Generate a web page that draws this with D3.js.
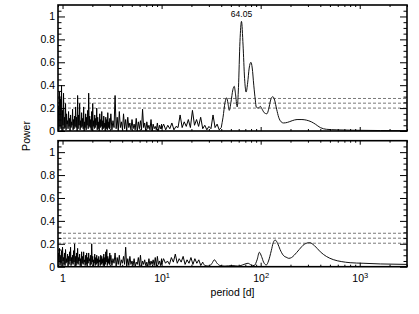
<!DOCTYPE html>
<html>
<head>
<meta charset="utf-8">
<script src="https://cdn.jsdelivr.net/npm/d3@7"></script>
<style>
  body { margin: 0; background: #fff; }
  text { font-family: "Liberation Sans", Arial, Helvetica, sans-serif; }
</style>
</head>
<body>
<svg id="chart" width="419" height="314"></svg>
<script>
/* axis settings */
var periodDomain = [0.9, 3000];
var powerDomain = [0, 1.1];
var xMajor = [1, 10, 100, 1000];
var xLabelBase = ["1", "10", "10", "10"];
var xLabelExp = ["", "1", "2", "3"];
var yMajor = [0, 0.2, 0.4, 0.6, 0.8, 1];
var yLabels = ["0", "0.2", "0.4", "0.6", "0.8", "1"];

// false alarm levels (dashed)
var levelsTop = [0.20, 0.243, 0.284];
var levelsBottom = [0.205, 0.249, 0.292];

// highest peak
var peakPeriod = 64.05;
var peakPower = 0.957;
var peakLabel = "64.05";

// noisy short period part, power x100, trough/peak alternating,
// on a log grid between the break periods
var topBreaks = [0.9, 3, 10, 40];
var topNoise1 = [3,22,1,34,4,28,2,40,0,18,5,33,2,12,3,24,1,15,6,9,
  2,17,4,11,0,14,3,8,5,19,1,10,2,13,4,21,3,12,0,31,
  2,14,5,24,1,9,3,16,4,11,2,21,0,8,3,15,1,12,5,18,
  2,33,4,13,3,10,1,17,0,24,4,9,2,14,3,11,5,20,1,12,
  2,8,0,15,3,10,4,17,1,9,2,13,3,7,0,12,2,10,1,16,
  3,8,2,11];
var topNoise2 = [2,15,1,9,3,31,2,12,0,17,3,8,1,15,2,10,0,12,3,7,
  1,10,2,6,1,11,0,8,2,9,1,19,3,7,0,8,2,5,1,10,
  0,6,2,4,1,7,0,5,2,6];
var topNoise3 = [2,6,1,5,2,7,1,4,3,14,3,8,4,10,3,18,5,10,4,12,
  2,5,1,4,2,14,3,6,1,3];

// smooth long period part [period, power]
var topCurve = [[41.7,0.12],[43.7,0.25],[45.4,0.29],[46.8,0.24],[48.2,0.18],[50.1,0.25],
  [52.4,0.36],[54.1,0.39],[55.6,0.33],[58.0,0.21],[59.7,0.38],[61.8,0.78],[64.05,0.957],
  [66.4,0.75],[68.8,0.46],[71.3,0.34],[73.9,0.42],[76.6,0.55],[79.7,0.60],[82.2,0.55],
  [85.2,0.40],[88.3,0.27],[90.2,0.21],[94.6,0.20],[99.2,0.215],[103.5,0.19],[108.5,0.16],
  [115.6,0.15],[120.4,0.19],[126,0.27],[132.6,0.30],[138.3,0.27],[145,0.19],[152,0.12],
  [161,0.08],[170,0.07],[186,0.075],[208,0.09],[233,0.10],[261,0.10],[289,0.095],
  [325,0.08],[356,0.06],[400,0.03],[460,0.015],[588,0.01],[800,0.007],[1620,0.004],[3000,0.003]];

var botBreaks = [0.9, 3, 10, 26];
var botNoise1 = [2,12,4,16,1,9,3,14,0,17,5,8,2,12,1,15,3,7,4,11,
  0,9,2,13,5,17,1,8,3,10,2,14,4,20,0,9,1,12,3,16,
  2,8,5,11,1,7,0,13,3,9,2,13,4,6,1,10,2,12,0,8,
  3,12,5,7,1,10,2,20,4,9,0,6,3,11,1,8,2,10,3,7,
  0,9,4,6,1,10,2,9,3,7,1,11,0,8,2,13,4,15,1,9,
  3,7,2,12];
var botNoise2 = [2,10,1,7,3,12,0,8,2,10,1,6,3,9,2,17,0,7,1,9,
  2,5,1,7,0,4,2,8,1,10,0,5,2,6,1,4,0,7,1,5,
  2,6,1,8,0,9,2,5,1,7];
var botNoise3 = [2,7,3,5,2,8,4,11,3,7,4,9,2,6,3,8,2,7,3,6,1,4];

var botCurve = [[27.4,0.01],[30.1,0.005],[32.3,0.03],[34.1,0.06],[36.3,0.03],[38.9,0.01],
  [43.6,0.005],[51.5,0.01],[59.2,0.005],[67.8,0.02],[74.5,0.03],[80.1,0.015],[86,0.01],
  [92,0.06],[97,0.126],[102,0.09],[107,0.04],[114,0.015],[120,0.05],[128,0.14],[134,0.21],
  [140,0.233],[149,0.2],[157,0.15],[169,0.10],[184,0.08],[192,0.073],[205,0.08],[218,0.1],
  [245,0.15],[275,0.195],[312,0.21],[348,0.185],[400,0.13],[460,0.09],[540,0.062],
  [650,0.045],[800,0.035],[1080,0.03],[1620,0.024],[3000,0.02]];

/* helpers */
// put noise values on the log grid of their segment
function noisePoints(breaks, segs) {
  var pts = [];
  segs.forEach(function (vals, s) {
    var p0 = breaks[s], p1 = breaks[s + 1], n = vals.length;
    vals.forEach(function (v, i) {
      pts.push([p0 * Math.pow(p1 / p0, i / (n - 1)), v / 100]);
    });
  });
  return pts;
}

var svg = d3.select("#chart");
var left = 58, right = 407;
var x = d3.scaleLog().domain(periodDomain).range([left, right]);

var panels = [
  { top: 5, bottom: 131, noise: noisePoints(topBreaks, [topNoise1, topNoise2, topNoise3]),
    curve: topCurve, levels: levelsTop, labels: false, peak: true },
  { top: 140.7, bottom: 266.7, noise: noisePoints(botBreaks, [botNoise1, botNoise2, botNoise3]),
    curve: botCurve, levels: levelsBottom, labels: true, peak: false }
];

var xMinor = x.ticks().filter(function (d) { return xMajor.indexOf(d) < 0; });

panels.forEach(function (p, k) {
  var y = d3.scaleLinear().domain(powerDomain).range([p.bottom, p.top]);
  var yMinor = y.ticks(22).filter(function (d) {
    return Math.round(d * 100) % 20 !== 0 && d < 1.09;
  });
  var g = svg.append("g");

  g.append("clipPath").attr("id", "clip" + k)
    .append("rect").attr("x", left).attr("y", p.top)
    .attr("width", right - left).attr("height", p.bottom - p.top);

  // dashed levels
  g.selectAll("line.level").data(p.levels).enter().append("line")
    .attr("class", "level")
    .attr("x1", left).attr("x2", right)
    .attr("y1", function (d) { return y(d); })
    .attr("y2", function (d) { return y(d); })
    .attr("stroke", "#555").attr("stroke-width", 0.8)
    .attr("stroke-dasharray", "3,2");

  var data = g.append("g").attr("clip-path", "url(#clip" + k + ")");
  var lineLin = d3.line()
    .x(function (d) { return x(d[0]); })
    .y(function (d) { return y(d[1]); });
  var lineSmooth = d3.line()
    .x(function (d) { return x(d[0]); })
    .y(function (d) { return y(d[1]); })
    .curve(d3.curveMonotoneX);

  data.append("path").attr("d", lineLin(p.noise))
    .attr("fill", "none").attr("stroke", "#000").attr("stroke-width", 1);
  data.append("path").attr("d", lineSmooth([p.noise[p.noise.length - 1]].concat(p.curve)))
    .attr("fill", "none").attr("stroke", "#111").attr("stroke-width", 1);

  // ticks on all four sides, pointing inwards
  function tidy(sel) {
    sel.select(".domain").remove();
    sel.selectAll(".tick line").attr("stroke", "#000").attr("stroke-width", 1);
    sel.attr("font-size", 10.5).attr("font-family", null);
  }
  [[d3.axisBottom, p.bottom], [d3.axisTop, p.top]].forEach(function (a) {
    g.append("g").attr("transform", "translate(0," + a[1] + ")")
      .call(a[0](x).tickValues(xMinor).tickSizeInner(-2).tickSizeOuter(0).tickFormat(""))
      .call(tidy);
  });
  g.append("g").attr("transform", "translate(0," + p.top + ")")
    .call(d3.axisTop(x).tickValues(xMajor).tickSizeInner(-4).tickSizeOuter(0).tickFormat(""))
    .call(tidy);
  var xb = g.append("g").attr("transform", "translate(0," + p.bottom + ")")
    .call(d3.axisBottom(x).tickValues(xMajor).tickSizeInner(-4).tickSizeOuter(0)
      .tickPadding(8).tickFormat(""))
    .call(tidy);
  if (p.labels) {
    xb.selectAll(".tick text").each(function (d, i) {
      var t = d3.select(this).attr("fill", "#000").text(xLabelBase[i]);
      if (xLabelExp[i]) {
        t.append("tspan").attr("dy", "-0.5em").attr("font-size", 7.5).text(xLabelExp[i]);
      }
    });
  }

  [[d3.axisLeft, left], [d3.axisRight, right]].forEach(function (a) {
    g.append("g").attr("transform", "translate(" + a[1] + ",0)")
      .call(a[0](y).tickValues(yMinor).tickSizeInner(-3.5).tickSizeOuter(0).tickFormat(""))
      .call(tidy);
  });
  g.append("g").attr("transform", "translate(" + right + ",0)")
    .call(d3.axisRight(y).tickValues(yMajor).tickSizeInner(-7).tickSizeOuter(0).tickFormat(""))
    .call(tidy);
  g.append("g").attr("transform", "translate(" + left + ",0)")
    .call(d3.axisLeft(y).tickValues(yMajor).tickSizeInner(-7).tickSizeOuter(0)
      .tickPadding(3).tickFormat(function (d, i) { return yLabels[i]; }))
    .call(tidy)
    .selectAll(".tick text").attr("fill", "#000");

  g.append("rect").attr("x", left).attr("y", p.top)
    .attr("width", right - left).attr("height", p.bottom - p.top)
    .attr("fill", "none").attr("stroke", "#000").attr("stroke-width", 1.6);

  if (p.peak) {
    g.append("text").attr("x", x(peakPeriod)).attr("y", y(peakPower) - 4)
      .attr("text-anchor", "middle").attr("font-size", 8.5).attr("fill", "#000")
      .text(peakLabel);
  }
});

svg.append("text")
  .attr("transform", "translate(30,136) rotate(-90)")
  .attr("text-anchor", "middle").attr("font-size", 10.5)
  .text("Power");

svg.append("text")
  .attr("x", (left + right) / 2).attr("y", 296)
  .attr("text-anchor", "middle").attr("font-size", 10.5)
  .text("period [d]");
</script>
</body>
</html>
